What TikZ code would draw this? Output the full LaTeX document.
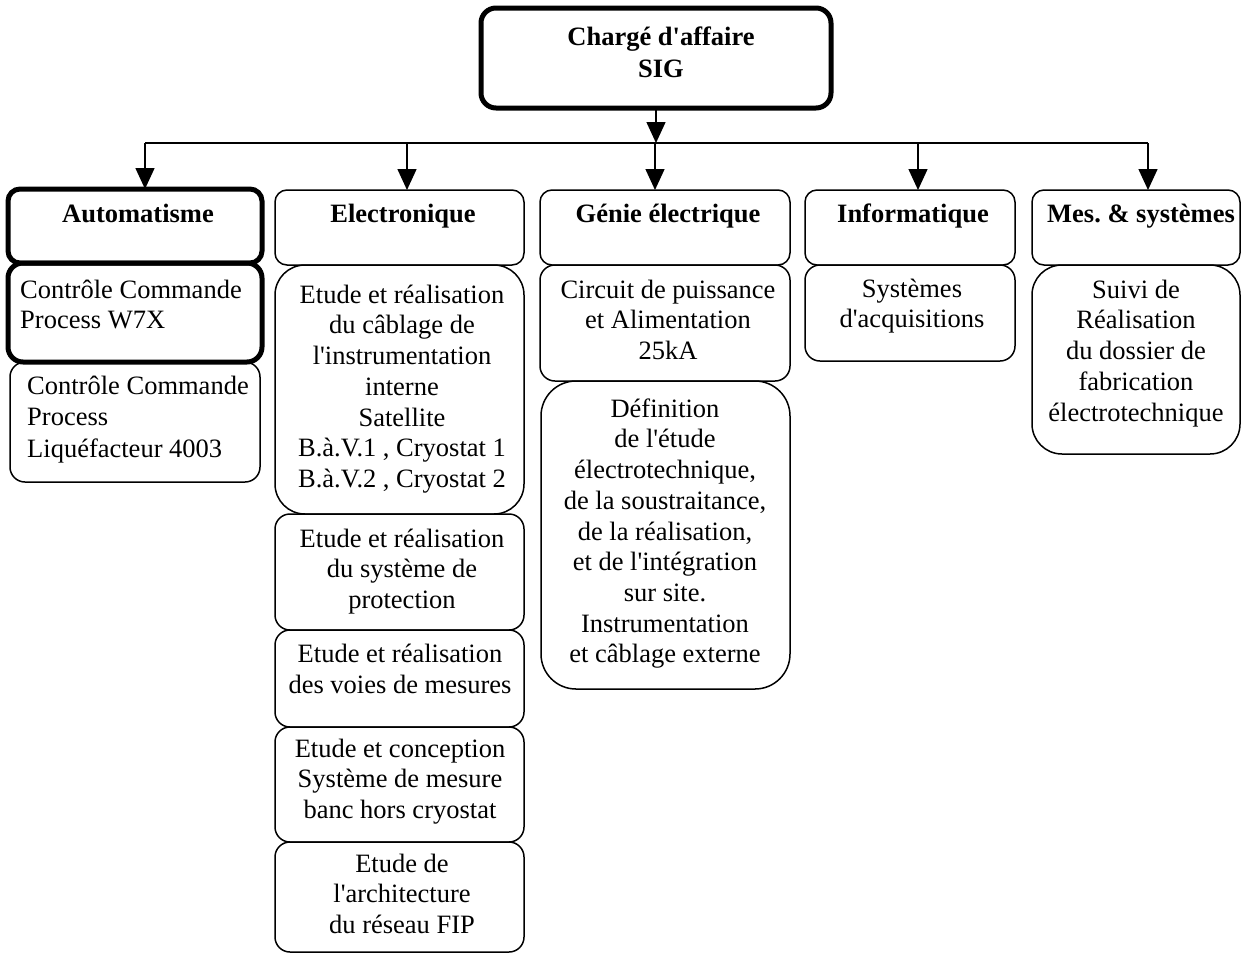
\documentclass[tikz,border=0pt]{standalone}
\usepackage{fontspec}
\setmainfont{Liberation Serif}[Ligatures=TeXOff]
\usetikzlibrary{arrows.meta}
\frenchspacing

% rounded box given by its corners (x1,y1) and (x2,y2), y pointing down
\newcommand\orgbox[6][]{%
  \node[box,#1,minimum width={(#5)-(#3)},minimum height={(#6)-(#4)}]
    (#2) at ({((#3)+(#5))/2},{((#4)+(#6))/2}) {};}
% invisible strut fixing the height of a first line
\newcommand\lead{\rule{0pt}{20pt}}

\begin{document}
\begin{tikzpicture}[x=1pt,y=-1pt,
  box/.style={draw, line width=1.5pt, rounded corners=12pt, inner sep=0pt, outer sep=0pt},
  heavy/.style={line width=5pt},
  softer/.style={rounded corners=30pt},
  txt/.style={anchor=north, inner sep=0pt, align=center,
              font=\fontsize{26.5}{30.7}\selectfont},
  head/.style={txt, font=\fontsize{26.5}{32}\selectfont\bfseries},
  arr/.style={line width=1.5pt, -{Triangle[length=21pt,width=19pt]}},
]
\useasboundingbox (0,0) rectangle (1242,954);
\clip (0,0) rectangle (1242,954);

% ---- top of the chart
\orgbox[heavy,rounded corners=15pt]{top}{481}{8}{831}{108}
\node[head] (top-t) at (661,25) {\lead Chargé d'affaire\\SIG};

% ---- column heads
\orgbox[heavy]{auto}{8}{189}{262}{263}
\orgbox{elec}{275}{190}{524}{265}
\orgbox{gen}{540}{190}{790}{265}
\orgbox{inf}{805}{190}{1015}{265}
\orgbox{mes}{1032}{190}{1240}{265}
\node[head] (auto-t) at (138,202) {\lead Automatisme};
\node[head] (elec-t) at (403,202) {\lead Electronique};
\node[head] (gen-t)  at (668,202) {\lead Génie électrique};
\node[head] (inf-t)  at (913,202) {\lead Informatique};
\node[head] (mes-t)  at (1141,202) {\lead Mes. \& systèmes};

% ---- bus and arrows
\coordinate (b1) at (145,143);
\coordinate (b2) at (407,143);
\coordinate (b3) at (655,143);
\coordinate (b4) at (918,143);
\coordinate (b5) at (1148,143);
\draw[line width=1.5pt] (b1) -- (b5);
\draw[arr] (top.south) -- (top.south |- b1);
\draw[arr] (b1) -- (b1 |- auto.north);
\draw[arr] (b2) -- (b2 |- elec.north);
\draw[arr] (b3) -- (b3 |- gen.north);
\draw[arr] (b4) -- (b4 |- inf.north);
\draw[arr] (b5) -- (b5 |- mes.north);

% ---- Automatisme
\orgbox[heavy,rounded corners=15pt]{w7x}{8}{263}{262}{362}
\orgbox[rounded corners=15pt]{liq}{10}{362}{260}{482}
\node[txt,anchor=north west,align=left] (w7x-t) at (20,278)
  {\lead Contrôle Commande\\Process W7X};
\node[txt,anchor=north west,align=left,font=\fontsize{26.5}{31.5}\selectfont]
  (liq-t) at (27,374) {\lead Contrôle Commande\\Process\\Liquéfacteur 4003};

% ---- Electronique
\orgbox[softer]{e1}{275}{265}{524}{514}
\orgbox[rounded corners=15pt]{e2}{275}{514}{524}{630}
\orgbox[rounded corners=15pt]{e3}{275}{630}{524}{727}
\orgbox[rounded corners=15pt]{e4}{275}{727}{524}{842}
\orgbox[rounded corners=15pt]{e5}{275}{842}{524}{952}
\node[txt] (e1-t) at (402,283) {\lead Etude et réalisation\\du câblage de\\l'instrumentation\\interne\\Satellite\\B.à.V.1 , Cryostat 1\\B.à.V.2 , Cryostat 2};
\node[txt] (e2-t) at (402,527) {\lead Etude et réalisation\\du système de\\protection};
\node[txt,font=\fontsize{26.5}{31.5}\selectfont] (e3-t) at (400,642) {\lead Etude et réalisation\\des voies de mesures};
\node[txt] (e4-t) at (400,737) {\lead Etude et conception\\Système de mesure\\banc hors cryostat};
\node[txt] (e5-t) at (402,852) {\lead Etude de\\l'architecture\\du réseau FIP};

% ---- Génie électrique
\orgbox[rounded corners=15pt]{g1}{540}{265}{790}{381}
\orgbox[rounded corners=35pt]{g2}{541}{381}{790}{689}
\node[txt] (g1-t) at (668,278) {\lead Circuit de puissance\\et Alimentation\\25kA};
\node[txt] (g2-t) at (665,397) {\lead Définition\\de l'étude\\électrotechnique,\\de la soustraitance,\\de la réalisation,\\et de l'intégration\\sur site.\\Instrumentation\\et câblage externe};

% ---- Informatique
\orgbox[rounded corners=15pt]{i1}{805}{265}{1015}{361}
\node[txt] (i1-t) at (912,277) {\lead Systèmes\\d'acquisitions};

% ---- Mes. & systèmes
\orgbox[softer]{m1}{1032}{265}{1240}{454}
\node[txt] (m1-t) at (1136,278) {\lead Suivi de\\Réalisation\\du dossier de\\fabrication\\électrotechnique};
\end{tikzpicture}
\end{document}
